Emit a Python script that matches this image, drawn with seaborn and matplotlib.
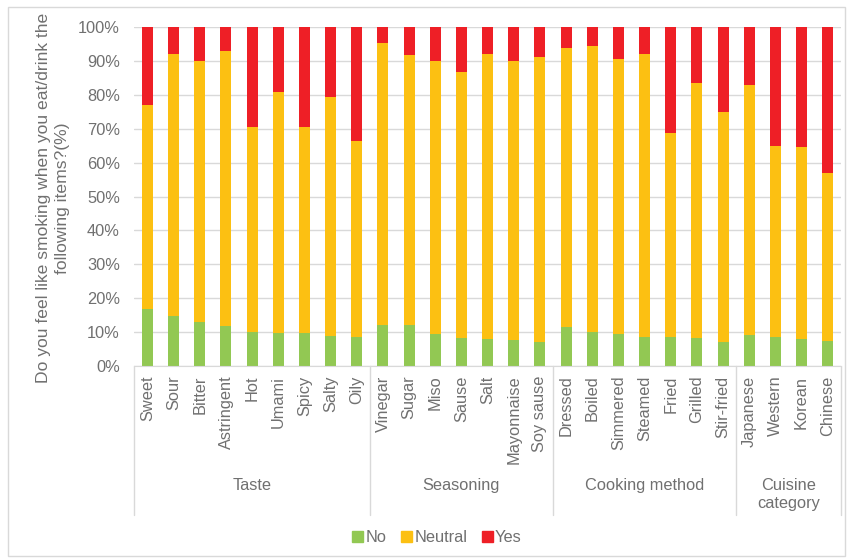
import matplotlib
matplotlib.use("Agg")
import matplotlib.pyplot as plt
import matplotlib.patches as mpatches
import pandas as pd
import seaborn as sns

# data (percent of respondents)
items = ["Sweet", "Sour", "Bitter", "Astringent", "Hot", "Umami", "Spicy", "Salty", "Oily",
         "Vinegar", "Sugar", "Miso", "Sause", "Salt", "Mayonnaise", "Soy sause",
         "Dressed", "Boiled", "Simmered", "Steamed", "Fried", "Grilled", "Stir-fried",
         "Japanese", "Western", "Korean", "Chinese"]
groups = ["Taste", "Seasoning", "Cooking method", "Cuisine\ncategory"]
group_sizes = [9, 7, 7, 4]
no_vals = [16.9, 14.8, 12.9, 11.7, 10.1, 9.6, 9.6, 8.8, 8.5,
           12.2, 12.0, 9.5, 8.2, 8.1, 7.8, 7.2,
           11.5, 10.0, 9.4, 8.5, 8.5, 8.2, 7.2,
           9.1, 8.7, 7.9, 7.4]
neutral_vals = [60.3, 77.4, 77.1, 81.2, 60.5, 71.4, 60.9, 70.6, 58.0,
                83.3, 79.9, 80.4, 78.7, 83.9, 82.3, 84.1,
                82.4, 84.6, 81.2, 83.5, 60.4, 75.3, 67.8,
                73.8, 56.3, 56.9, 49.5]
yes_vals = [22.8, 7.8, 10.0, 7.1, 29.4, 19.0, 29.5, 20.6, 33.5,
            4.5, 8.1, 10.1, 13.1, 8.0, 9.9, 8.7,
            6.1, 5.4, 9.4, 8.0, 31.1, 16.5, 25.0,
            17.1, 35.0, 35.2, 43.1]

colors = {"No": "#92C853", "Neutral": "#FCC012", "Yes": "#EE1F26"}
text_color = "#707070"
fs = 11.8

df = pd.DataFrame({"item": items, "No": no_vals, "Neutral": neutral_vals, "Yes": yes_vals})
df["top_no"] = df["No"]
df["top_neutral"] = df["No"] + df["Neutral"]
df["top_yes"] = df["top_neutral"] + df["Yes"]

sns.set_style("white")
plt.rcParams["font.family"] = ["Liberation Sans", "DejaVu Sans"]

fig = plt.figure(figsize=(8.48, 5.59), dpi=100)
ax = fig.add_axes([0.1585, 0.3453, 0.833, 0.6059])

# stacked bars: draw cumulative totals back to front
for col, name in [("top_yes", "Yes"), ("top_neutral", "Neutral"), ("top_no", "No")]:
    sns.barplot(data=df, x="item", y=col, order=items, color=colors[name],
                saturation=1, width=0.42, ax=ax, linewidth=0)

ax.set_xlim(-0.5, len(items) - 0.5)
ax.set_ylim(0, 100)
ax.set_yticks(range(0, 101, 10))
ax.set_yticklabels([f"{v}%" for v in range(0, 101, 10)])
ax.yaxis.grid(True, color="#d9d9d9", linewidth=1)
ax.set_axisbelow(True)
ax.set_xlabel("")
ax.set_ylabel("")
for s in ["top", "right", "left"]:
    ax.spines[s].set_visible(False)
ax.spines["bottom"].set_color("#d9d9d9")
ax.tick_params(axis="y", length=0, pad=10.5, labelsize=fs, labelcolor=text_color)
ax.tick_params(axis="x", length=0, pad=7, labelsize=fs, labelcolor=text_color)
plt.setp(ax.get_xticklabels(), rotation=90, va="top")

# group separators and group labels below the axis
trans = ax.get_xaxis_transform()
edges = [-0.5]
for n in group_sizes:
    edges.append(edges[-1] + n)
for e in edges:
    ax.plot([e, e], [0, -0.44], transform=trans, color="#d9d9d9", linewidth=1, clip_on=False)
for i, g in enumerate(groups):
    cx = (edges[i] + edges[i + 1]) / 2
    yy = -0.354 if "\n" not in g else -0.38
    ax.text(cx, yy, g, transform=trans, ha="center", va="center",
            fontsize=fs, color=text_color, linespacing=1.25)

fig.text(53 / 848, 1 - 198 / 559,
         "Do you feel like smoking when you eat/drink the\nfollowing items?(%)",
         rotation=90, ha="center", va="center", fontsize=12.6, color=text_color,
         multialignment="center", linespacing=1.3)

handles = [mpatches.Patch(color=colors[k], label=k) for k in ["No", "Neutral", "Yes"]]
leg = fig.legend(handles=handles, loc="center", bbox_to_anchor=(437 / 848, 1 - 538 / 559), ncol=3,
                 frameon=False, fontsize=fs, handlelength=0.65, handleheight=0.65,
                 handletextpad=0.15, columnspacing=0.9)
for t in leg.get_texts():
    t.set_color(text_color)

# light frame around the chart
fig.patches.append(mpatches.Rectangle((8 / 848, 3 / 559), 837 / 848, 549 / 559,
                                      transform=fig.transFigure, fill=False,
                                      edgecolor="#d9d9d9", linewidth=1))

fig.savefig("out.png", dpi=100)
